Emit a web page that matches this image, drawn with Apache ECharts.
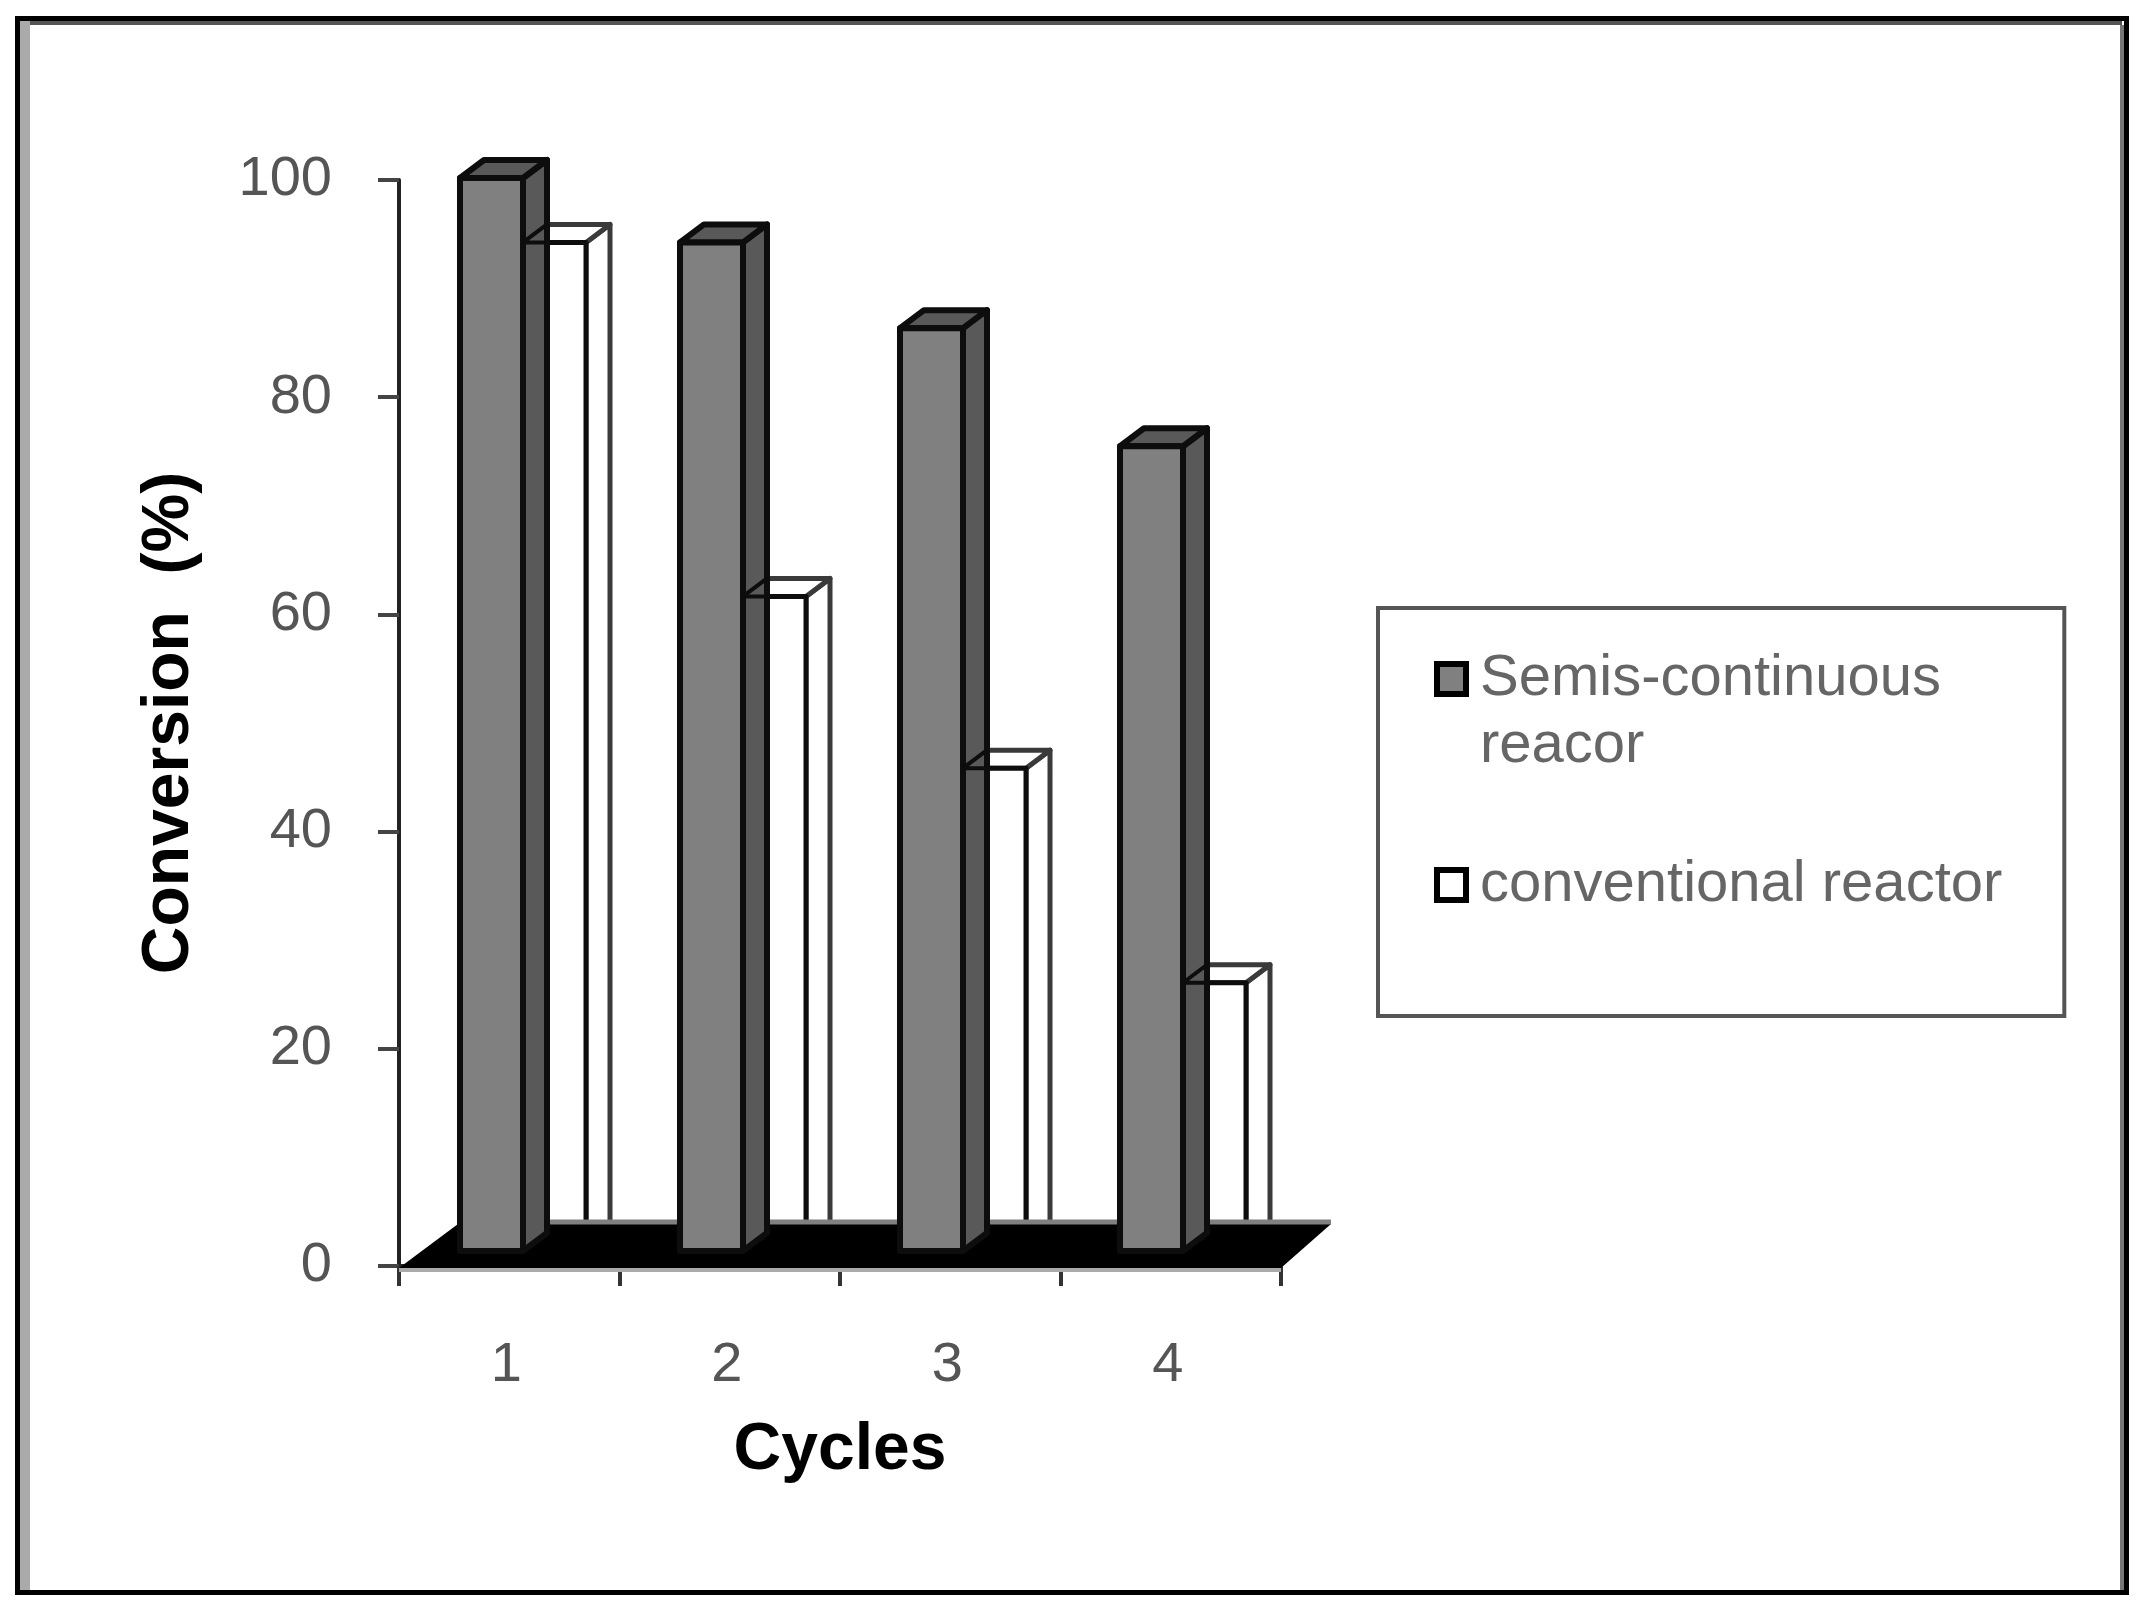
<!DOCTYPE html>
<html>
<head>
<meta charset="utf-8">
<style>html,body{margin:0;padding:0;background:#fff}#c{width:2143px;height:1604px;filter:blur(0.7px)}</style>
<script src="https://cdn.jsdelivr.net/npm/echarts@6/dist/echarts.min.js"></script>
</head>
<body>
<div id="c"></div>
<script>
const cycles = ['1', '2', '3', '4'];
const semiContinuous = [100, 94, 86, 75];
const conventional = [94, 61, 45, 25];
const yTicks = { min: 0, max: 100, interval: 20 };
const names = ['Semis-continuous\nreacor', 'conventional reactor'];

const FONT = '"Liberation Sans", Arial, sans-serif';
const BAR_FRACTION = 0.2864, DX = 24, DY = 18, STROKE = '#0d0d0d';

function cuboid(x0, x1, yTop, yBase, front, dark, lw, sideStroke) {
  const sh = { stroke: STROKE, lineWidth: lw, lineJoin: 'round' };
  return {
    type: 'group',
    children: [
      { type: 'polygon', shape: { points: [[x1, yTop], [x1 + DX, yTop - DY], [x1 + DX, yBase - DY], [x1, yBase]] },
        style: { fill: dark, stroke: sideStroke || STROKE, lineWidth: lw, lineJoin: 'round' } },
      { type: 'polygon', shape: { points: [[x0, yTop], [x0 + DX, yTop - DY], [x1 + DX, yTop - DY], [x1, yTop]] },
        style: Object.assign({ fill: dark }, sh, sideStroke ? { stroke: sideStroke } : {}) },
      { type: 'rect', shape: { x: x0, y: yTop, width: x1 - x0, height: yBase - yTop },
        style: Object.assign({ fill: front }, sh) }
    ]
  };
}
function barRenderer(side, front, dark, lw, sideStroke) {
  return function (params, api) {
    const p = api.coord([api.value(0), api.value(1)]);
    const base = api.coord([api.value(0), 0]);
    const w = api.size([1, 0])[0] * BAR_FRACTION;
    const x0 = side < 0 ? p[0] - w : p[0];
    return cuboid(x0, x0 + w, p[1], base[1], front, dark, lw, sideStroke);
  };
}
// The top edges of the white columns stay visible across the dark side of the grey ones.
function whiteTopEdges(params, api) {
  const p = api.coord([api.value(0), api.value(1)]);
  return {
    type: 'polyline',
    shape: { points: [[p[0] + DX, p[1]], [p[0], p[1]], [p[0] + DX, p[1] - DY]] },
    style: { fill: 'none', stroke: STROKE, lineWidth: 4, lineJoin: 'round' }
  };
}
function floorRenderer(params) {
  const c = params.coordSys;
  const fx0 = c.x, fx1 = c.x + c.width, fy = c.y + c.height + 2;
  const by = fy - 44, bx0 = fx0 + 59, bx1 = fx1 + 50;
  return {
    type: 'group',
    children: [
      { type: 'polygon', shape: { points: [[bx0, by], [bx1, by], [fx1, fy], [fx0, fy]] }, style: { fill: '#000' } },
      { type: 'line', shape: { x1: bx0, y1: by - 2, x2: bx1, y2: by - 2 }, style: { stroke: '#808080', lineWidth: 5 } },
      { type: 'line', shape: { x1: fx0, y1: fy + 2, x2: fx1, y2: fy + 2 }, style: { stroke: '#aaa', lineWidth: 4 } }
    ]
  };
}
const toPairs = arr => arr.map((v, i) => [i, v]);

const chart = echarts.init(document.getElementById('c'), null, { renderer: 'canvas' });
chart.setOption({
  animation: false,
  backgroundColor: '#fff',
  graphic: [
    { type: 'rect', silent: true, z: -1, shape: { x: 17.5, y: 18.5, width: 2109, height: 1574 }, style: { fill: 'none', stroke: '#000', lineWidth: 5 } },
    { type: 'line', silent: true, z: -1, shape: { x1: 25, y1: 23, x2: 2122, y2: 23 }, style: { stroke: '#555', lineWidth: 4 } },
    { type: 'line', silent: true, z: -1, shape: { x1: 25, y1: 21, x2: 25, y2: 1590 }, style: { stroke: '#aaa', lineWidth: 10 } },
    { type: 'line', silent: true, z: -1, shape: { x1: 2122, y1: 25, x2: 2122, y2: 1590 }, style: { stroke: '#777', lineWidth: 4 } }
  ],
  grid: [
    { left: 399, top: 180, width: 882, height: 1086 },
    { left: 413, top: 178, width: 880, height: 1073 }
  ],
  xAxis: [
    { type: 'category', gridIndex: 0, data: cycles, name: 'Cycles', nameLocation: 'middle', nameGap: 152,
      nameTextStyle: { fontFamily: FONT, fontSize: 66, fontWeight: 'bold', color: '#000' },
      axisLine: { lineStyle: { color: '#222', width: 4 } },
      axisTick: { show: true, length: 20, lineStyle: { color: '#333', width: 4 } },
      axisLabel: { margin: 72, padding: [0, 6, 0, 0], fontFamily: FONT, fontSize: 56, color: '#555' } },
    { type: 'category', gridIndex: 1, data: cycles, show: false }
  ],
  yAxis: [
    { type: 'value', gridIndex: 0, min: yTicks.min, max: yTicks.max, interval: yTicks.interval,
      name: 'Conversion  (%)', nameLocation: 'middle', nameGap: 196, nameRotate: 90,
      nameTextStyle: { fontFamily: FONT, fontSize: 66, fontWeight: 'bold', color: '#000' },
      splitLine: { show: false },
      axisLine: { show: true, lineStyle: { color: '#222', width: 4 } },
      axisTick: { show: true, length: 21, lineStyle: { color: '#444', width: 4 } },
      axisLabel: { margin: 67, padding: [4, 0, 0, 0], fontFamily: FONT, fontSize: 56, color: '#555' } },
    { type: 'value', gridIndex: 1, min: yTicks.min, max: yTicks.max, show: false, splitLine: { show: false } }
  ],
  legend: {
    orient: 'vertical', left: 1378, top: 608, selectedMode: false,
    padding: [34, 62, 61, 54], itemGap: 33, itemWidth: 33, itemHeight: 134,
    backgroundColor: '#fff', borderColor: '#555', borderWidth: 4,
    textStyle: { fontFamily: FONT, fontSize: 58, lineHeight: 67, color: '#666', padding: [0, 0, 0, 7] },
    itemStyle: { borderColor: '#000', borderWidth: 5 },
    data: [
      { name: names[0], icon: 'path://M2,19H31V49H2ZM0,134L0,134M33,0L33,0', itemStyle: { color: '#808080', borderColor: '#000', borderWidth: 6 } },
      { name: names[1], icon: 'path://M2,52H31V82H2ZM0,134L0,134M33,0L33,0', itemStyle: { color: '#fff', borderColor: '#000', borderWidth: 6 } }
    ]
  },
  series: [
    { type: 'custom', name: names[0], xAxisIndex: 1, yAxisIndex: 1, z: 5, clip: false,
      itemStyle: { color: '#808080' }, encode: { x: 0, y: 1 }, data: toPairs(semiContinuous),
      renderItem: barRenderer(-1, '#808080', '#595959', 6) },
    { type: 'custom', name: names[1], xAxisIndex: 1, yAxisIndex: 1, z: 3, clip: false,
      itemStyle: { color: '#fff' }, encode: { x: 0, y: 1 }, data: toPairs(conventional),
      renderItem: barRenderer(1, '#fff', '#fff', 5, '#3a3a3a') },
    { type: 'custom', xAxisIndex: 1, yAxisIndex: 1, z: 6, clip: false, silent: true,
      encode: { x: 0, y: 1 }, data: toPairs(conventional), renderItem: whiteTopEdges },
    { type: 'custom', xAxisIndex: 0, yAxisIndex: 0, z: 4, clip: false, silent: true,
      data: [[0, 0]], renderItem: floorRenderer }
  ]
});
</script>
</body>
</html>
